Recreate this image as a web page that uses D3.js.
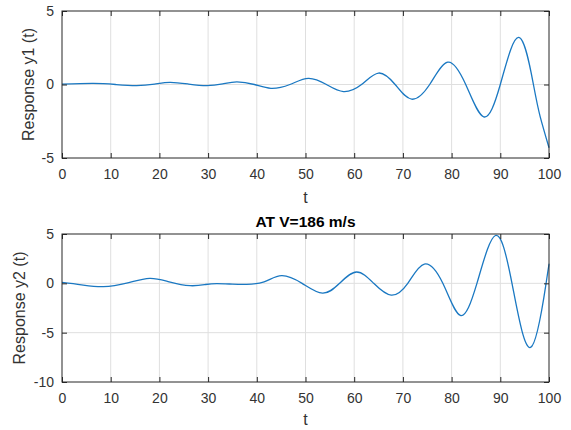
<!DOCTYPE html>
<html>
<head>
<meta charset="utf-8">
<script src="https://cdn.jsdelivr.net/npm/d3@7"></script>
<style>
body{margin:0;background:#fff;}
svg{display:block;font-family:"Liberation Sans",Arial,sans-serif;}
</style>
</head>
<body>
<svg id="chart" width="571" height="430"></svg>
<script>
// x tick labels
const xTicks = [0,10,20,30,40,50,60,70,80,90,100];
const y1Ticks = [-5,0,5];
const y2Ticks = [-10,-5,0,5];

// Response y1 (t): time samples and values
const t1 = [0, 6.4, 11, 15.3, 19, 22.2, 26, 29.7, 33, 35.9, 39.5, 42.9, 46.8, 50.6, 54.3, 57.8, 61.5, 65, 68.4, 71.8, 75.5, 79.2, 82.9, 86.6, 90, 93.8, 96.8, 98.2, 100];
const y1 = [0.02, 0.07, 0.0, -0.07, 0.03, 0.15, 0.03, -0.08, 0.04, 0.18, 0.0, -0.26, 0.0, 0.42, 0.0, -0.48, 0.0, 0.78, 0.0, -1.0, 0.0, 1.52, 0.0, -2.2, 0.0, 3.2, 0.0, -2.2, -4.3];

// Response y2 (t)
const t2 = [0, 4, 8.5, 13.5, 18, 22, 26.3, 29.5, 31.8, 35, 37.9, 41.5, 45.1, 49.3, 53.5, 57, 60.5, 64, 67.6, 71, 74.4, 78.2, 81.8, 85.2, 89, 92.4, 96.2, 99.4, 100];
const y2 = [0.1, -0.15, -0.34, 0.05, 0.5, 0.15, -0.24, -0.12, -0.03, -0.08, -0.1, 0.15, 0.78, 0.0, -1.0, 0.0, 1.15, 0.0, -1.2, 0.0, 1.95, 0.0, -3.25, 0.0, 4.85, 0.0, -6.5, 0.0, 1.9];

const title2 = "AT V=186 m/s";

const svg = d3.select("#chart");
const left = 62, right = 549;
const x = d3.scaleLinear().domain([0,100]).range([left,right]);
const fmt = d => String(d);

function panel(top, bottom, yDomain, yTicks, ts, vals, ylabel, ylabelX, xlabelGap) {
  const y = d3.scaleLinear().domain(yDomain).range([bottom, top]);
  const g = svg.append("g");
  // grid
  g.selectAll(".gx").data(xTicks.filter(d=>d>0&&d<100)).enter().append("line")
    .attr("x1",d=>x(d)).attr("x2",d=>x(d)).attr("y1",top).attr("y2",bottom)
    .attr("stroke","#dfdfdf").attr("stroke-width",1);
  g.selectAll(".gy").data(yTicks.filter(d=>d>yDomain[0]&&d<yDomain[1])).enter().append("line")
    .attr("x1",left).attr("x2",right).attr("y1",d=>y(d)).attr("y2",d=>y(d))
    .attr("stroke","#dfdfdf").attr("stroke-width",1);
  // line
  const data = ts.map((t,i)=>[t, vals[i]]);
  g.append("path").datum(data)
    .attr("fill","none").attr("stroke","#1a78c2").attr("stroke-width",1.3)
    .attr("d", d3.line().x(d=>x(d[0])).y(d=>y(d[1])).curve(d3.curveNatural));
  // axes
  const axB = d3.axisBottom(x).tickValues(xTicks).tickSize(-5).tickPadding(11).tickFormat(fmt);
  const axT = d3.axisTop(x).tickValues(xTicks).tickSize(-5).tickFormat("");
  const axL = d3.axisLeft(y).tickValues(yTicks).tickSize(-5).tickPadding(8).tickFormat(fmt);
  const axR = d3.axisRight(y).tickValues(yTicks).tickSize(-5).tickFormat("");
  const style = sel => {
    sel.selectAll("path").attr("stroke","#262626");
    sel.selectAll("line").attr("stroke","#262626");
    sel.selectAll("text").attr("fill","#333").style("font-size","14px").style("font-family","'Liberation Sans',Arial,sans-serif");
  };
  g.append("g").attr("transform",`translate(0,${bottom})`).call(axB).call(style);
  g.append("g").attr("transform",`translate(0,${top})`).call(axT).call(style);
  g.append("g").attr("transform",`translate(${left},0)`).call(axL).call(style);
  g.append("g").attr("transform",`translate(${right},0)`).call(axR).call(style);
  g.selectAll(".domain").attr("d", null);
  g.append("rect").attr("x",left).attr("y",top).attr("width",right-left).attr("height",bottom-top)
    .attr("fill","none").attr("stroke","#262626").attr("stroke-width",1);
  // labels
  g.append("text").attr("x",(left+right)/2).attr("y",bottom+xlabelGap).attr("text-anchor","middle")
    .attr("fill","#333").style("font-size","16px").text("t");
  g.append("text").attr("transform",`translate(${ylabelX},${(top+bottom)/2}) rotate(-90)`)
    .attr("text-anchor","middle").attr("fill","#333").style("font-size","16px").text(ylabel);
}

panel(11, 158, [-5,5], y1Ticks, t1, y1, "Response y1 (t)", 34, 45);
panel(234, 382, [-10,5], y2Ticks, t2, y2, "Response y2 (t)", 25, 43);

svg.append("text").attr("x",(left+right)/2).attr("y",227).attr("text-anchor","middle")
  .attr("fill","#000").style("font-size","15.5px").style("font-weight","bold").text(title2);
</script>
</body>
</html>
